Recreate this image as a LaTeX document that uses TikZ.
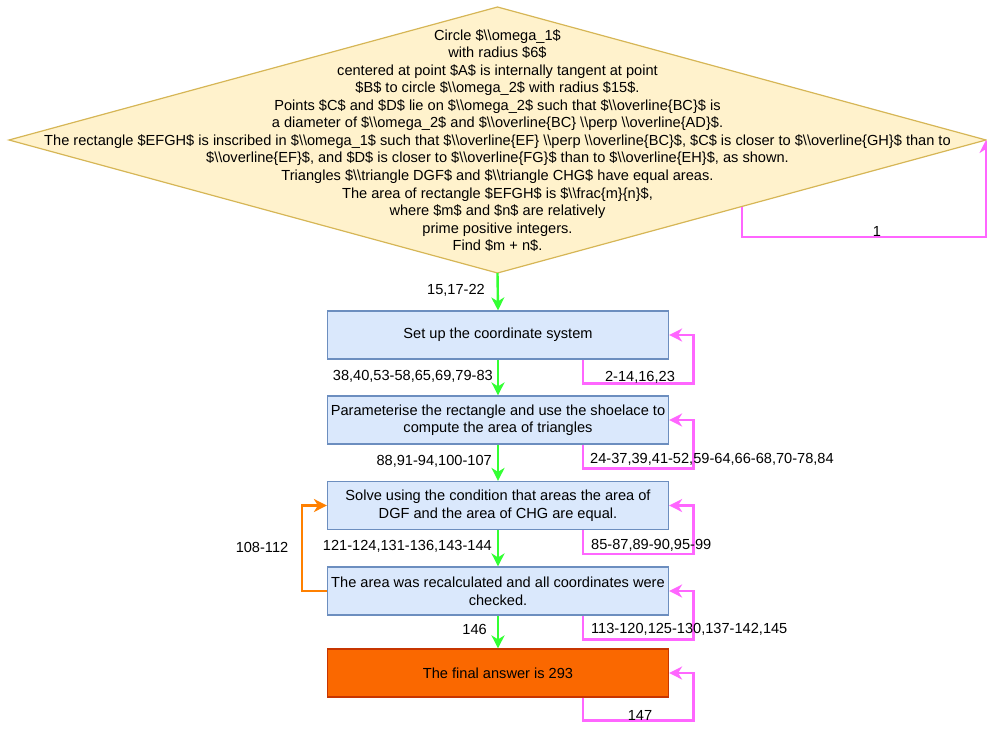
\documentclass[tikz,border=0pt]{standalone}
\usepackage{fontspec}
\setmainfont{Liberation Sans}
\usetikzlibrary{arrows.meta,calc}
\newcommand\bs{\textbackslash}

\definecolor{qfill}{HTML}{FFF2CC}
\definecolor{qline}{HTML}{D6B656}
\definecolor{boxfill}{HTML}{DAE8FC}
\definecolor{boxline}{HTML}{6C8EBF}
\definecolor{endfill}{HTML}{FA6800}
\definecolor{endline}{HTML}{C73500}
\definecolor{fwdcol}{HTML}{33FF33}
\definecolor{loopcol}{HTML}{FF66FF}
\definecolor{backcol}{HTML}{FF8000}

\begin{document}
\begin{tikzpicture}[x=1pt,y=-1pt,
  every node/.style={font=\fontsize{14.6}{17.56}\selectfont},
  stepbox/.style={draw=boxline, fill=boxfill, line width=1.2pt,
    minimum width=341pt, minimum height=48pt, align=center, inner sep=0pt},
  endbox/.style={stepbox, draw=endline, fill=endfill},
  tip/.style={-{Stealth[length=13pt,width=13pt,inset=4pt]}},
  fwd/.style={tip, draw=fwdcol, line width=2.4pt},
  loopline/.style={tip, draw=loopcol, line width=2.4pt},
  backline/.style={tip, draw=backcol, line width=2.4pt},
  lbl/.style={inner sep=0pt}
]
\useasboundingbox (0,0) rectangle (987,728);

% question diamond
\coordinate (qt) at (497.5,7);
\coordinate (qr) at (986,140);
\coordinate (qb) at (497.5,273);
\coordinate (ql) at (9,140);
\path[draw=qline, fill=qfill, line width=1.2pt] (qt) -- (qr) -- (qb) -- (ql) -- cycle;
\node[align=center, inner sep=0pt] (q) at (497.5,140.5) {%
Circle \$\bs\bs omega\_1\$\\
with radius \$6\$\\
centered at point \$A\$ is internally tangent at point\\
\$B\$ to circle \$\bs\bs omega\_2\$ with radius \$15\$.\\
Points \$C\$ and \$D\$ lie on \$\bs\bs omega\_2\$ such that \$\bs\bs overline\{BC\}\$ is\\
a diameter of \$\bs\bs omega\_2\$ and \$\bs\bs overline\{BC\} \bs\bs perp \bs\bs overline\{AD\}\$.\\
The rectangle \$EFGH\$ is inscribed in \$\bs\bs omega\_1\$ such that \$\bs\bs overline\{EF\} \bs\bs perp \bs\bs overline\{BC\}\$, \$C\$ is closer to \$\bs\bs overline\{GH\}\$ than to\\
\$\bs\bs overline\{EF\}\$, and \$D\$ is closer to \$\bs\bs overline\{FG\}\$ than to \$\bs\bs overline\{EH\}\$, as shown.\\
Triangles \$\bs\bs triangle DGF\$ and \$\bs\bs triangle CHG\$ have equal areas.\\
The area of rectangle \$EFGH\$ is \$\bs\bs frac\{m\}\{n\}\$,\\
where \$m\$ and \$n\$ are relatively\\
prime positive integers.\\
Find \$m + n\$.};
\coordinate (qe) at ($(qb)!0.5!(qr)$);

% solution steps
\node[stepbox] (b1) at (498,335) {Set up the coordinate system};
\node[stepbox] (b2) at (498,420) {Parameterise the rectangle and use the shoelace to\\compute the area of triangles};
\node[stepbox] (b3) at (498,505.5) {Solve using the condition that areas the area of\\DGF and the area of CHG are equal.};
\node[stepbox] (b4) at (498,591) {The area was recalculated and all coordinates were\\checked.};
\node[endbox] (b5) at (498,673) {The final answer is 293};

% forward flow
\draw[fwd] (qb) -- (b1.north);
\draw[fwd] (b1) -- (b2);
\draw[fwd] (b2) -- (b3);
\draw[fwd] (b3) -- (b4);
\draw[fwd] (b4) -- (b5);

% self loops
\draw[loopline] (qe) -- ++(0,30.5) -| (qr);
\draw[loopline] ([xshift=85pt]b1.south) -- ++(0,24) -| ([xshift=24.5pt]b1.east) -- (b1.east);
\draw[loopline] ([xshift=85pt]b2.south) -- ++(0,24) -| ([xshift=24.5pt]b2.east) -- (b2.east);
\draw[loopline] ([xshift=85pt]b3.south) -- ++(0,24) -| ([xshift=24.5pt]b3.east) -- (b3.east);
\draw[loopline] ([xshift=85pt]b4.south) -- ++(0,24) -| ([xshift=24.5pt]b4.east) -- (b4.east);
\draw[loopline] ([xshift=85pt]b5.south) -- ++(0,23) -| ([xshift=24.5pt]b5.east) -- (b5.east);

% back edge
\draw[backline] (b4.west) -- ++(-25,0) |- (b3.west);

% edge labels
\node[lbl, anchor=mid east] (l0) at (485,292) {15,17-22};
\node[lbl, anchor=mid east] (l1) at (493,378) {38,40,53-58,65,69,79-83};
\node[lbl, anchor=mid east] (l2) at (492,463) {88,91-94,100-107};
\node[lbl, anchor=mid east] (l3) at (492,548) {121-124,131-136,143-144};
\node[lbl, anchor=mid east] (l4) at (487,632) {146};
\node[lbl] (m0) at (877,231) {1};
\node[lbl] (m1) at (640,377) {2-14,16,23};
\node[lbl, anchor=mid west] (m2) at (590,461) {24-37,39,41-52,59-64,66-68,70-78,84};
\node[lbl, anchor=mid west] (m3) at (591,547) {85-87,89-90,95-99};
\node[lbl, anchor=mid west] (m4) at (591,631) {113-120,125-130,137-142,145};
\node[lbl] (m5) at (640,715) {147};
\node[lbl] (o1) at (262,547) {108-112};
\end{tikzpicture}
\end{document}
